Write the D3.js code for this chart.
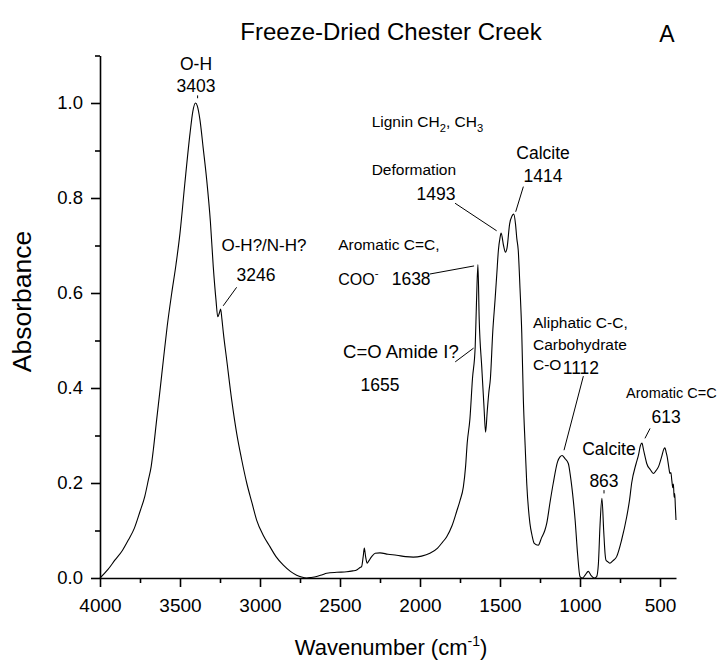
<!DOCTYPE html>
<html>
<head>
<meta charset="utf-8">
<script src="https://cdn.jsdelivr.net/npm/d3@7"></script>
<style>
  html, body { margin: 0; padding: 0; background: #fff; }
  svg { display: block; }
  text { font-family: "Liberation Sans", Arial, Helvetica, sans-serif; fill: #000; }
</style>
</head>
<body>
<svg id="chart" width="718" height="667"></svg>
<script>
// FTIR spectrum, freeze-dried Chester Creek sample (wavenumber in cm-1, absorbance)
const wavenumber = [
  4000, 3950, 3906, 3860, 3823, 3785, 3750, 3720, 3698, 3680, 3667, 3646, 3625, 3604,
  3580, 3552, 3525, 3500, 3470, 3437, 3420, 3403, 3392, 3375, 3355, 3333, 3310, 3292,
  3275, 3264, 3254, 3246, 3238, 3229, 3208, 3177, 3146, 3115, 3083, 3050, 3021, 2980,
  2938, 2900, 2854, 2810, 2771, 2740, 2708, 2680, 2646, 2610, 2583, 2520, 2458, 2420,
  2396, 2375, 2365, 2355, 2348, 2340, 2330, 2320, 2302, 2280, 2250, 2200, 2146, 2090,
  2042, 1990, 1938, 1890, 1860, 1833, 1800, 1771, 1750, 1729, 1715, 1705, 1688, 1672,
  1655, 1647, 1638, 1630, 1614, 1600, 1590, 1580, 1570, 1560, 1545, 1531, 1520, 1510,
  1500, 1493, 1478, 1466, 1456, 1440, 1425, 1414, 1403, 1395, 1386, 1375, 1364, 1354,
  1343, 1333, 1313, 1300, 1286, 1261, 1240, 1220, 1208, 1187, 1167, 1140, 1125, 1112,
  1095, 1073, 1060, 1042, 1030, 1015, 1000, 985, 968, 948, 930, 910, 896, 885,
  875, 863, 852, 843, 838, 825, 813, 795, 771, 740, 708, 690, 677, 650,
  635, 623, 613, 603, 593, 583, 560, 542, 525, 510, 490, 475, 469, 462,
  455, 445, 438, 432, 426, 420, 416, 412, 408, 404, 400
];
const absorbance = [
  0.000, 0.018, 0.038, 0.058, 0.080, 0.105, 0.140, 0.172, 0.206, 0.235, 0.269, 0.333, 0.395, 0.459,
  0.530, 0.599, 0.660, 0.726, 0.830, 0.937, 0.982, 1.000, 0.994, 0.964, 0.905, 0.838, 0.750, 0.655,
  0.585, 0.550, 0.558, 0.566, 0.545, 0.516, 0.459, 0.375, 0.305, 0.250, 0.200, 0.158, 0.122, 0.090,
  0.066, 0.045, 0.027, 0.014, 0.006, 0.002, 0.000, 0.001, 0.003, 0.007, 0.010, 0.012, 0.013, 0.015,
  0.017, 0.022, 0.024, 0.045, 0.063, 0.045, 0.031, 0.036, 0.045, 0.052, 0.053, 0.050, 0.048, 0.045,
  0.044, 0.046, 0.052, 0.063, 0.075, 0.087, 0.110, 0.140, 0.163, 0.192, 0.235, 0.284, 0.335, 0.420,
  0.487, 0.580, 0.660, 0.545, 0.444, 0.360, 0.307, 0.350, 0.390, 0.420, 0.520, 0.585, 0.640, 0.690,
  0.716, 0.726, 0.700, 0.686, 0.695, 0.745, 0.762, 0.766, 0.745, 0.715, 0.690, 0.610, 0.516, 0.375,
  0.280, 0.200, 0.115, 0.090, 0.073, 0.069, 0.085, 0.100, 0.115, 0.160, 0.200, 0.245, 0.255, 0.258,
  0.252, 0.241, 0.215, 0.164, 0.120, 0.050, 0.003, 0.000, 0.006, 0.014, 0.005, 0.000, 0.003, 0.030,
  0.110, 0.168, 0.100, 0.050, 0.038, 0.034, 0.031, 0.036, 0.045, 0.080, 0.129, 0.165, 0.200, 0.240,
  0.258, 0.278, 0.284, 0.270, 0.255, 0.241, 0.228, 0.220, 0.226, 0.234, 0.255, 0.272, 0.274, 0.265,
  0.255, 0.233, 0.220, 0.222, 0.205, 0.190, 0.198, 0.170, 0.178, 0.150, 0.122
];

const xMajorTicks = [4000, 3500, 3000, 2500, 2000, 1500, 1000, 500];
const xMinorTicks = [3750, 3250, 2750, 2250, 1750, 1250, 750];
const yMajorTicks = [0.0, 0.2, 0.4, 0.6, 0.8, 1.0];
const yMinorTicks = [0.1, 0.3, 0.5, 0.7, 0.9, 1.1];

const svg = d3.select("#chart");
const x = d3.scaleLinear().domain([4000, 400]).range([100, 676]);
const y = d3.scaleLinear().domain([0, 1.1]).range([578, 55.5]);

// axes
const axisStroke = 1.6;
function styleAxis(g) {
  g.selectAll("path.domain").attr("stroke", "#000").attr("stroke-width", axisStroke);
  g.selectAll(".tick line").attr("stroke", "#000").attr("stroke-width", axisStroke);
}

const gxMinor = svg.append("g").attr("transform", `translate(0,${y(0)})`)
  .call(d3.axisBottom(x).tickValues(xMinorTicks).tickSize(5).tickSizeOuter(0).tickFormat(""));
gxMinor.select("path.domain").remove();
gxMinor.selectAll(".tick text").remove();
styleAxis(gxMinor);

const gx = svg.append("g").attr("transform", `translate(0,${y(0)})`)
  .call(d3.axisBottom(x).tickValues(xMajorTicks).tickSize(9).tickSizeOuter(0).tickPadding(12)
    .tickFormat(d3.format("d")));
styleAxis(gx);
gx.selectAll(".tick text").attr("font-size", 19).attr("font-family", null);

const gyMinor = svg.append("g").attr("transform", `translate(${x(4000)},0)`)
  .call(d3.axisLeft(y).tickValues(yMinorTicks).tickSize(5).tickSizeOuter(0).tickFormat(""));
gyMinor.select("path.domain").remove();
gyMinor.selectAll(".tick text").remove();
styleAxis(gyMinor);

const gy = svg.append("g").attr("transform", `translate(${x(4000)},0)`)
  .call(d3.axisLeft(y).tickValues(yMajorTicks).tickSize(9).tickSizeOuter(0).tickPadding(8)
    .tickFormat(d3.format(".1f")));
styleAxis(gy);
gy.selectAll(".tick text").attr("font-size", 18.5).attr("font-family", null);

// spectrum line
const spectrum = wavenumber.map((w, i) => [w, absorbance[i]]);
svg.append("path")
  .datum(spectrum)
  .attr("fill", "none")
  .attr("stroke", "#000")
  .attr("stroke-width", 1.1)
  .attr("stroke-linejoin", "round")
  .attr("d", d3.line().x(d => x(d[0])).y(d => y(d[1])).curve(d3.curveMonotoneX));

// titles
svg.append("text").attr("x", 391).attr("y", 40).attr("text-anchor", "middle")
  .attr("font-size", 24).text("Freeze-Dried Chester Creek");
svg.append("text").attr("x", 667).attr("y", 42).attr("text-anchor", "middle")
  .attr("font-size", 23).text("A");

svg.append("text")
  .attr("transform", "translate(31,301.5) rotate(-90)")
  .attr("text-anchor", "middle").attr("font-size", 26.5).text("Absorbance");

const xl = svg.append("text").attr("x", 391).attr("y", 655).attr("text-anchor", "middle")
  .attr("font-size", 22);
xl.append("tspan").text("Wavenumber (cm");
xl.append("tspan").attr("font-size", 14).attr("dy", -9).text("-1");
xl.append("tspan").attr("dy", 9).text(")");

// peak annotations, placed in spectrum units; {t, dy} parts are sub/superscripts
function label(w, a, parts, size, anchor) {
  const t = svg.append("text").attr("x", x(w)).attr("y", y(a))
    .attr("font-size", size).attr("text-anchor", anchor || "start");
  let shift = 0;
  parts.forEach(p => {
    if (typeof p === "string") {
      const s = t.append("tspan").text(p);
      if (shift) { s.attr("dy", -shift); shift = 0; }
    } else {
      t.append("tspan").attr("font-size", size * 0.72).attr("dy", p.dy).text(p.t);
      shift = p.dy;
    }
  });
  return t;
}
function leader(w1, a1, w2, a2) {
  svg.append("line")
    .attr("x1", x(w1)).attr("y1", y(a1)).attr("x2", x(w2)).attr("y2", y(a2))
    .attr("stroke", "#000").attr("stroke-width", 1);
}

label(3400, 1.069, ["O-H"], 17.5, "middle");
label(3400, 1.023, ["3403"], 17.5, "middle");
leader(3390, 1.016, 3390, 1.010);

label(2975, 0.688, ["O-H?/N-H?"], 17, "middle");
label(3025, 0.625, ["3246"], 17.5, "middle");
leader(3146, 0.612, 3230, 0.573);

label(2302, 0.949, ["Lignin CH", {t: "2", dy: 5}, ", CH", {t: "3", dy: 5}], 15.5);
label(2302, 0.848, ["Deformation"], 15.5);
label(1900, 0.796, ["1493"], 17.5, "middle");
leader(1781, 0.789, 1521, 0.731);

label(1231, 0.882, ["Calcite"], 17.5, "middle");
label(1231, 0.834, ["1414"], 17.5, "middle");
leader(1354, 0.824, 1402, 0.771);

label(2511, 0.691, ["Aromatic C=C,"], 15.5);
label(2511, 0.617, ["COO", {t: "-", dy: -8}], 16);
label(2177, 0.617, ["1638"], 17.5);
leader(1938, 0.640, 1662, 0.657);

label(2481, 0.463, ["C=O Amide I?"], 18.5);
label(2250, 0.394, ["1655"], 17.5, "middle");
leader(1780, 0.455, 1665, 0.484);

label(1294, 0.526, ["Aliphatic C-C,"], 15.5);
label(1294, 0.480, ["Carbohydrate"], 15.5);
label(1294, 0.438, ["C-O"], 15.5);
label(1108, 0.429, ["1112"], 17.5);
leader(979, 0.425, 1100, 0.269);

label(712, 0.379, ["Aromatic C=C"], 14.5);
label(462, 0.326, ["613"], 17.5, "middle");
leader(562, 0.315, 594, 0.294);

label(819, 0.259, ["Calcite"], 17.5, "middle");
label(850, 0.192, ["863"], 17.5, "middle");
leader(850, 0.185, 850, 0.178);
</script>
</body>
</html>
